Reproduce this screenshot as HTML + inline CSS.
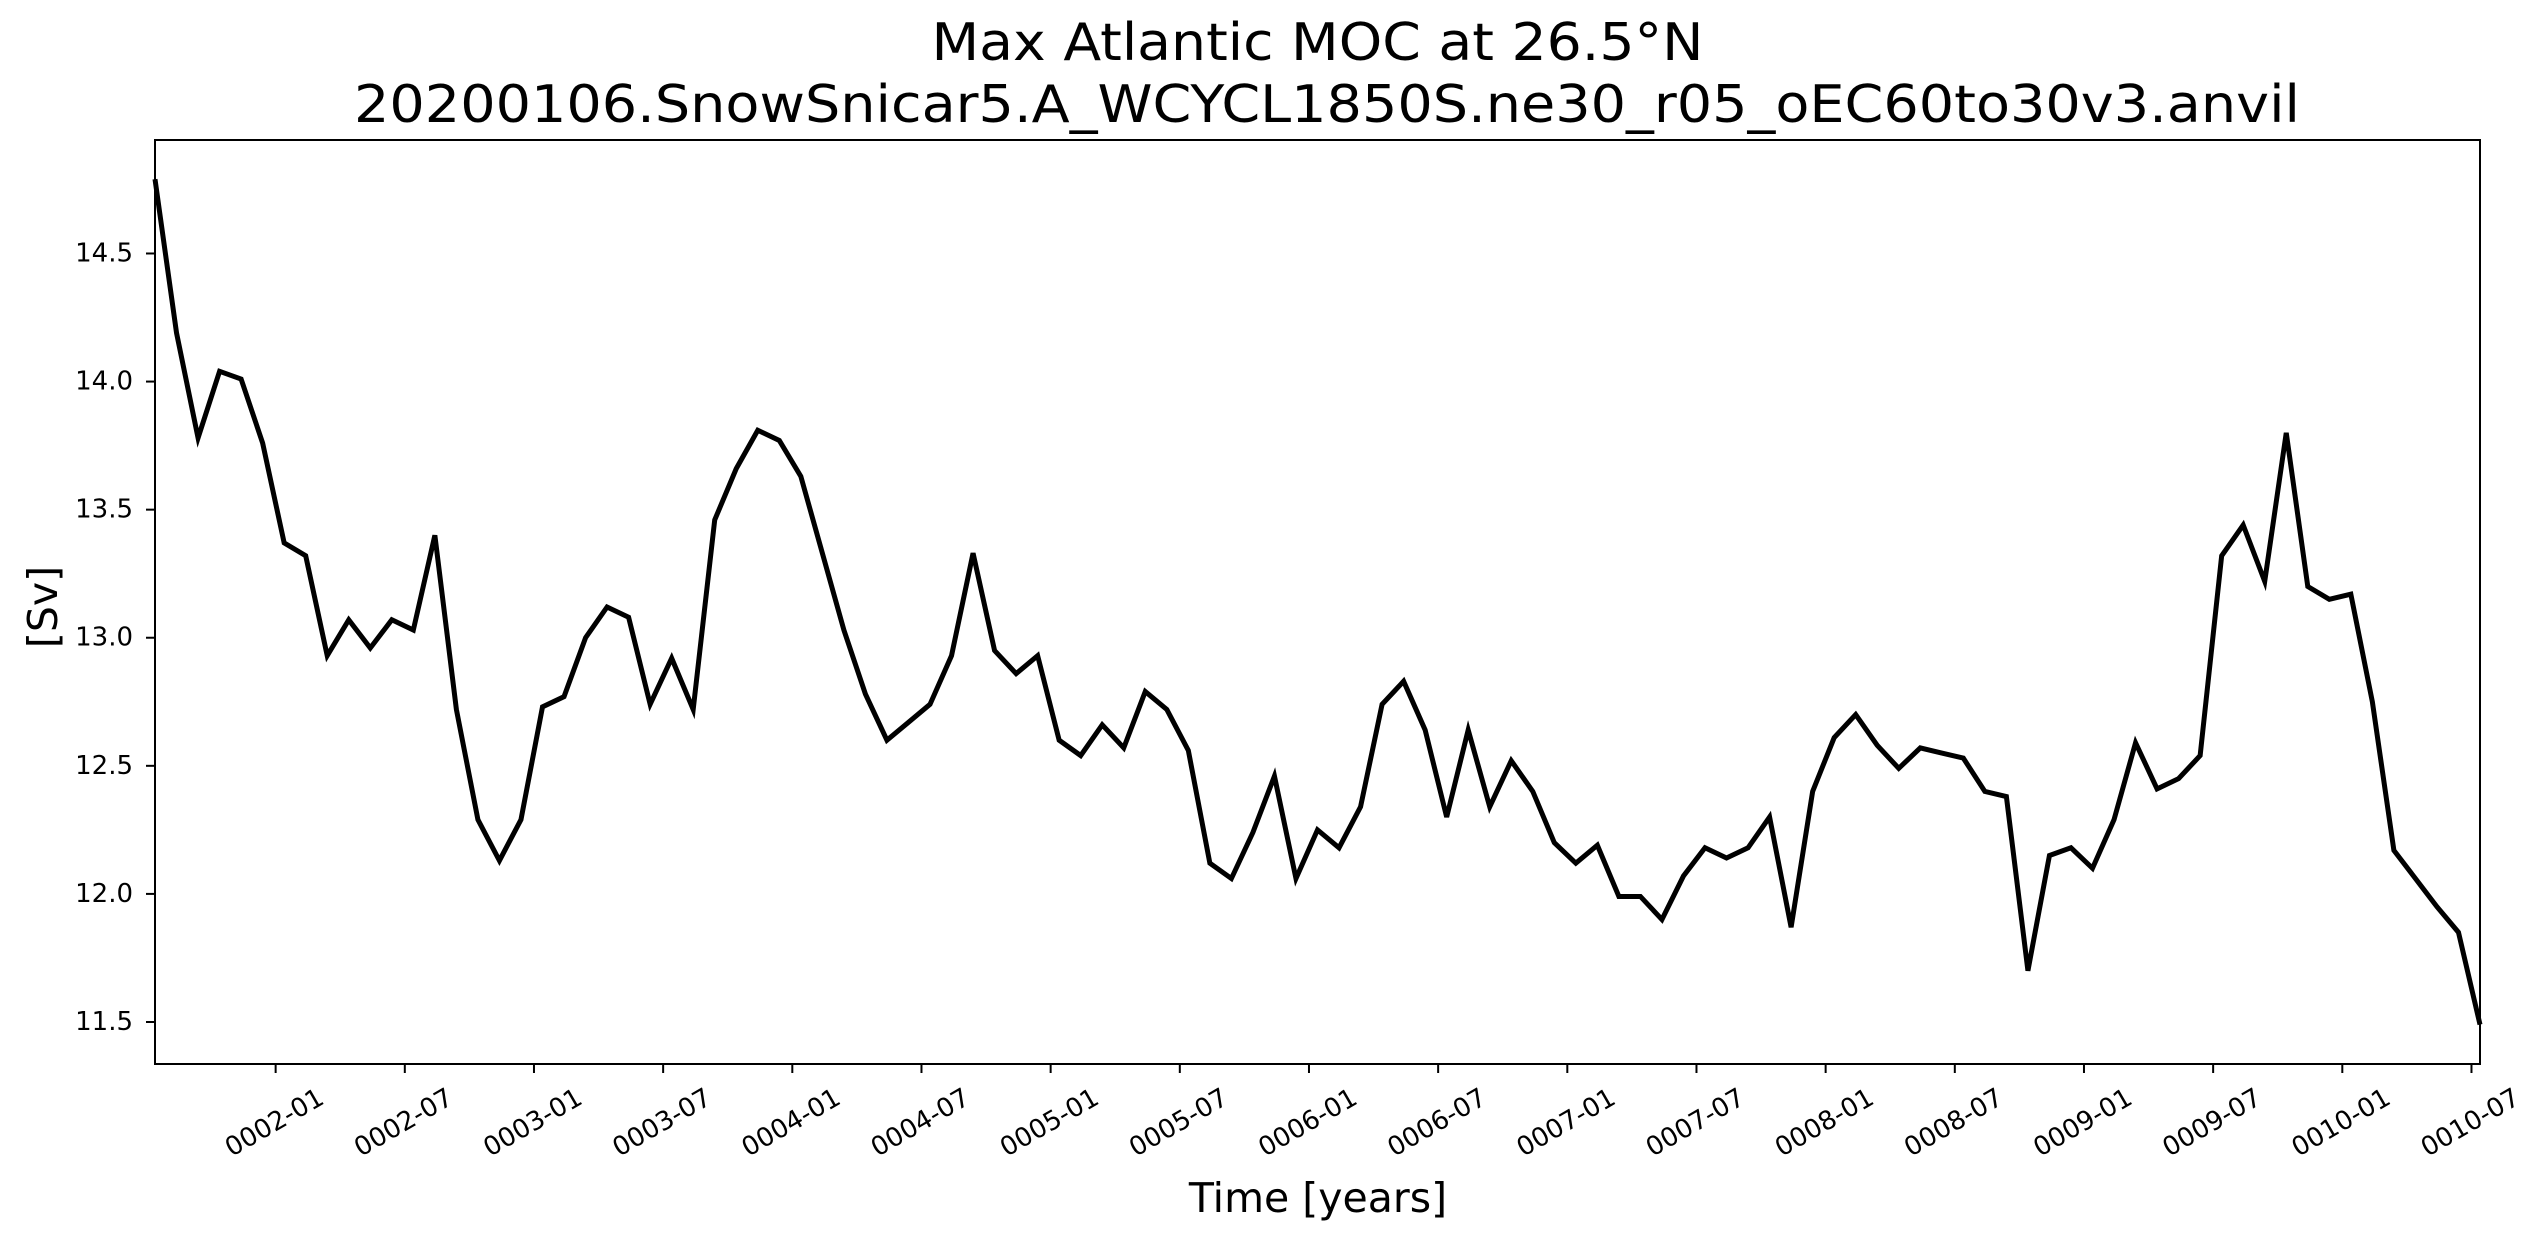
<!DOCTYPE html>
<html>
<head>
<meta charset="utf-8">
<style>
  html,body{margin:0;padding:0;background:#fff;}
  svg{display:block;font-family:"DejaVu Sans","Liberation Sans",sans-serif;}
</style>
</head>
<body>
<svg id="chart" width="2546" height="1240" viewBox="0 0 2546 1240" xmlns="http://www.w3.org/2000/svg">
  <rect x="0" y="0" width="2546" height="1240" fill="#fff"/>
  <text x="1317.5" y="60" font-size="52" text-anchor="middle" textLength="772" lengthAdjust="spacingAndGlyphs">Max Atlantic MOC at 26.5°N</text>
  <text x="1327" y="122" font-size="52" text-anchor="middle" textLength="1946" lengthAdjust="spacingAndGlyphs">20200106.SnowSnicar5.A_WCYCL1850S.ne30_r05_oEC60to30v3.anvil</text>
  <g id="yticks"></g>
  <g id="xticks"></g>
  <path id="series" fill="none" stroke="#000" stroke-width="5" stroke-linejoin="miter" stroke-linecap="butt"/>
  <rect x="155" y="140" width="2325" height="924" fill="none" stroke="#000" stroke-width="2"/>
  <text x="0" y="0" font-size="41" text-anchor="middle" dominant-baseline="central" transform="translate(43,607) rotate(-90)">[Sv]</text>
  <text x="1318" y="1212" font-size="41" text-anchor="middle">Time [years]</text>
</svg>
<script>
// Data
const startYear = 0.533;      // decimal years since 0001-01 of first sample
const stepYears = 1 / 12;     // monthly samples
const mocValues = [14.79,14.19,13.78,14.04,14.01,13.76,13.37,13.32,12.93,13.07,12.96,13.07,13.03,13.40,12.72,12.29,12.13,12.29,12.73,
  12.77,13.00,13.12,13.08,12.74,12.92,12.72,13.46,13.66,13.81,13.77,13.63,13.33,13.03,12.78,12.60,12.67,12.74,12.93,13.33,
  12.95,12.86,12.93,12.60,12.54,12.66,12.57,12.79,12.72,12.56,12.12,12.06,12.24,12.46,12.06,12.25,
  12.18,12.34,12.74,12.83,12.64,12.30,12.64,12.34,12.52,12.40,12.20,12.12,12.19,11.99,11.99,11.90,12.07,12.18,
  12.14,12.18,12.30,11.87,12.40,12.61,12.70,12.58,12.49,12.57,12.55,12.53,12.40,12.38,11.70,12.15,12.18,12.10,
  12.29,12.59,12.41,12.45,12.54,13.32,13.44,13.22,13.80,13.20,13.15,13.17,12.75,12.17,12.06,11.95,11.85,11.49];
const yTickValues = [11.5,12.0,12.5,13.0,13.5,14.0,14.5];
const yTickLabels = ["11.5","12.0","12.5","13.0","13.5","14.0","14.5"];
const xTickYears = [1.0,1.5,2.0,2.5,3.0,3.5,4.0,4.5,5.0,5.5,6.0,6.5,7.0,7.5,8.0,8.5,9.0,9.5];
const xTickLabels = ["0002-01","0002-07","0003-01","0003-07","0004-01","0004-07","0005-01","0005-07","0006-01","0006-07","0007-01","0007-07","0008-01","0008-07","0009-01","0009-07","0010-01","0010-07"];

// Axis functions
const plot = {left:155, right:2480, top:140, bottom:1064};
const yMin = 11.336, yMax = 14.943;
function yPx(v){ return plot.bottom - (v - yMin) / (yMax - yMin) * (plot.bottom - plot.top); }
const xMin = startYear, xMax = startYear + (mocValues.length - 1) * stepYears;
function xPx(t){ return plot.left + (t - xMin) / (xMax - xMin) * (plot.right - plot.left); }

const NS = "http://www.w3.org/2000/svg";
const yg = document.getElementById("yticks");
yTickValues.forEach((v, i) => {
  const y = yPx(v);
  const ln = document.createElementNS(NS, "line");
  
  
  ln.setAttribute("x1", plot.left - 9); ln.setAttribute("x2", plot.left);
  ln.setAttribute("y1", y); ln.setAttribute("y2", y);
  ln.setAttribute("stroke", "#000"); ln.setAttribute("stroke-width", "2");
  yg.appendChild(ln);
  const tx = document.createElementNS(NS, "text");
  
  
  tx.setAttribute("x", plot.left - 22); tx.setAttribute("y", y);
  tx.setAttribute("font-size", "26"); tx.setAttribute("text-anchor", "end");
  tx.setAttribute("dominant-baseline", "central");
  tx.textContent = yTickLabels[i];
  yg.appendChild(tx);
});

const xg = document.getElementById("xticks");
xTickYears.forEach((t, i) => {
  const x = xPx(t);
  const ln = document.createElementNS(NS, "line");
  
  
  ln.setAttribute("x1", x); ln.setAttribute("x2", x);
  ln.setAttribute("y1", plot.bottom); ln.setAttribute("y2", plot.bottom + 9);
  ln.setAttribute("stroke", "#000"); ln.setAttribute("stroke-width", "2");
  xg.appendChild(ln);
  const tx = document.createElementNS(NS, "text");
  
  
  tx.setAttribute("x", 0); tx.setAttribute("y", 0);
  tx.setAttribute("font-size", "26"); tx.setAttribute("text-anchor", "middle");
  tx.setAttribute("dominant-baseline", "central");
  tx.setAttribute("transform", "translate(" + (x - 1) + ",1123) rotate(-30)");
  tx.textContent = xTickLabels[i];
  xg.appendChild(tx);
});

let d = "";
mocValues.forEach((v, i) => {
  const t = startYear + i * stepYears;
  d += (i === 0 ? "M" : "L") + xPx(t).toFixed(2) + "," + yPx(v).toFixed(2);
});
document.getElementById("series").setAttribute("d", d);
</script>
</body>
</html>
